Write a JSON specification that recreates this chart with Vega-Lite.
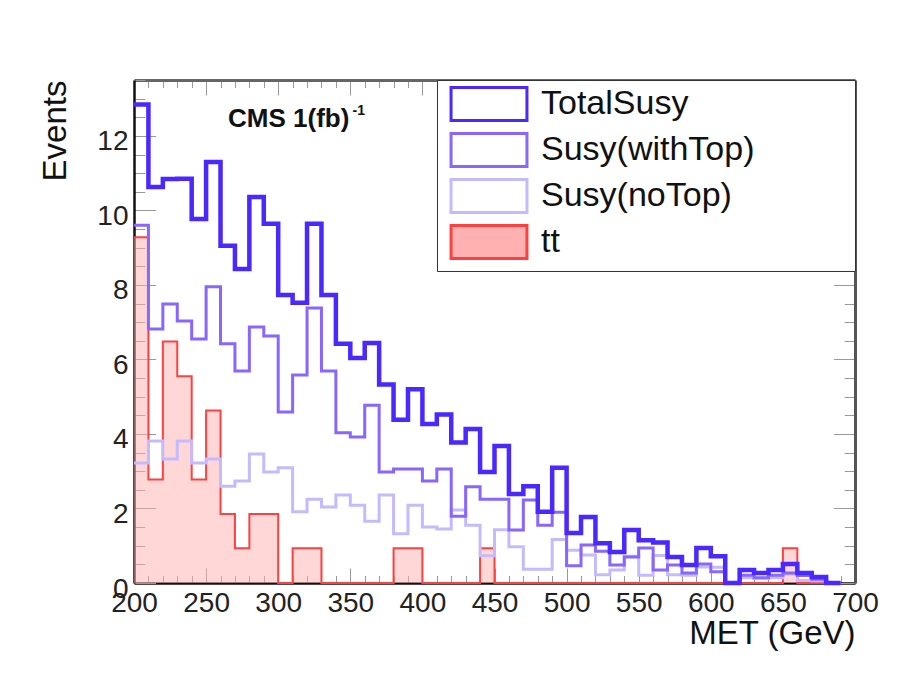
{
  "$schema": "https://vega.github.io/schema/vega-lite/v6.json",
  "width": 721,
  "height": 503,
  "autosize": "none",
  "padding": {"left": 134, "top": 80, "right": 56, "bottom": 108},
  "background": "white",
  "config": {
    "view": {"stroke": null},
    "axis": {"grid": false, "labelFont": "Liberation Sans", "titleFont": "Liberation Sans", "labelColor": "#222", "titleColor": "#111", "titleFontWeight": "normal", "labelOverlap": false, "labelFlush": false, "tickColor": "#999", "tickWidth": 1},
    "legend": {"title": null, "orient": "top-right", "offset": 0, "padding": 6,
      "symbolType": "M-2.3,-1H2.3V1H-2.3Z", "symbolSize": 1089, "symbolStrokeWidth": 3, "symbolOffset": 28,
      "labelFont": "Liberation Sans", "labelFontSize": 34, "labelColor": "#111", "labelOffset": 34, "rowPadding": 0, "labelLimit": 600,
      "strokeColor": "#333", "fillColor": "white"}
  },
  "data": {
    "values": [
      {"met": 200, "total": 12.84, "withTop": 9.6, "noTop": 3.22, "tt": 9.28},
      {"met": 210, "total": 10.63, "withTop": 6.82, "noTop": 3.81, "tt": 2.78},
      {"met": 220, "total": 10.84, "withTop": 7.49, "noTop": 3.33, "tt": 6.48},
      {"met": 230, "total": 10.85, "withTop": 7.03, "noTop": 3.81, "tt": 5.55},
      {"met": 240, "total": 9.77, "withTop": 6.55, "noTop": 3.22, "tt": 2.78},
      {"met": 250, "total": 11.3, "withTop": 7.95, "noTop": 3.33, "tt": 4.63},
      {"met": 260, "total": 9.05, "withTop": 6.42, "noTop": 2.6, "tt": 1.85},
      {"met": 270, "total": 8.43, "withTop": 5.69, "noTop": 2.74, "tt": 0.93},
      {"met": 280, "total": 10.36, "withTop": 6.87, "noTop": 3.46, "tt": 1.85},
      {"met": 290, "total": 9.64, "withTop": 6.63, "noTop": 2.98, "tt": 1.85},
      {"met": 300, "total": 7.73, "withTop": 4.59, "noTop": 3.09, "tt": 0},
      {"met": 310, "total": 7.52, "withTop": 5.58, "noTop": 1.91, "tt": 0.93},
      {"met": 320, "total": 9.64, "withTop": 7.38, "noTop": 2.25, "tt": 0.93},
      {"met": 330, "total": 7.73, "withTop": 5.69, "noTop": 2.04, "tt": 0},
      {"met": 340, "total": 6.42, "withTop": 4.03, "noTop": 2.36, "tt": 0},
      {"met": 350, "total": 6.04, "withTop": 3.92, "noTop": 2.09, "tt": 0},
      {"met": 360, "total": 6.44, "withTop": 4.77, "noTop": 1.66, "tt": 0},
      {"met": 370, "total": 5.33, "withTop": 2.98, "noTop": 2.36, "tt": 0},
      {"met": 380, "total": 4.38, "withTop": 3.06, "noTop": 1.32, "tt": 0.93},
      {"met": 390, "total": 5.2, "withTop": 3.06, "noTop": 2.09, "tt": 0.93},
      {"met": 400, "total": 4.27, "withTop": 2.74, "noTop": 1.5, "tt": 0},
      {"met": 410, "total": 4.52, "withTop": 3.06, "noTop": 1.45, "tt": 0},
      {"met": 420, "total": 3.77, "withTop": 1.79, "noTop": 1.96, "tt": 0},
      {"met": 430, "total": 4.13, "withTop": 2.58, "noTop": 1.55, "tt": 0},
      {"met": 440, "total": 2.98, "withTop": 2.25, "noTop": 0.73, "tt": 0.93},
      {"met": 450, "total": 3.68, "withTop": 2.25, "noTop": 1.43, "tt": 0},
      {"met": 460, "total": 2.39, "withTop": 1.42, "noTop": 0.97, "tt": 0},
      {"met": 470, "total": 2.6, "withTop": 2.23, "noTop": 0.37, "tt": 0},
      {"met": 480, "total": 1.91, "withTop": 1.55, "noTop": 0.37, "tt": 0},
      {"met": 490, "total": 3.09, "withTop": 1.9, "noTop": 1.17, "tt": 0},
      {"met": 500, "total": 1.34, "withTop": 0.46, "noTop": 0.88, "tt": 0},
      {"met": 510, "total": 1.77, "withTop": 1.02, "noTop": 0.75, "tt": 0},
      {"met": 520, "total": 1.07, "withTop": 0.85, "noTop": 0.22, "tt": 0},
      {"met": 530, "total": 0.83, "withTop": 0.48, "noTop": 0.35, "tt": 0},
      {"met": 540, "total": 1.42, "withTop": 0.7, "noTop": 0.72, "tt": 0},
      {"met": 550, "total": 1.15, "withTop": 0.94, "noTop": 0.21, "tt": 0},
      {"met": 560, "total": 1.09, "withTop": 0.35, "noTop": 0.74, "tt": 0},
      {"met": 570, "total": 0.7, "withTop": 0.48, "noTop": 0.22, "tt": 0},
      {"met": 580, "total": 0.48, "withTop": 0.27, "noTop": 0.21, "tt": 0},
      {"met": 590, "total": 0.94, "withTop": 0.51, "noTop": 0.43, "tt": 0},
      {"met": 600, "total": 0.72, "withTop": 0.3, "noTop": 0.42, "tt": 0},
      {"met": 610, "total": 0, "withTop": 0, "noTop": 0, "tt": 0},
      {"met": 620, "total": 0.35, "withTop": 0.21, "noTop": 0.14, "tt": 0},
      {"met": 630, "total": 0.27, "withTop": 0.14, "noTop": 0.13, "tt": 0},
      {"met": 640, "total": 0.35, "withTop": 0.21, "noTop": 0.14, "tt": 0},
      {"met": 650, "total": 0.51, "withTop": 0.27, "noTop": 0.24, "tt": 0.93},
      {"met": 660, "total": 0.27, "withTop": 0.2, "noTop": 0.07, "tt": 0},
      {"met": 670, "total": 0.16, "withTop": 0.1, "noTop": 0.06, "tt": 0},
      {"met": 680, "total": 0, "withTop": 0, "noTop": 0, "tt": 0},
      {"met": 690, "total": 0, "withTop": 0, "noTop": 0, "tt": 0}
    ]
  },
  "layer": [
    {
      "mark": {"type": "area", "interpolate": "step-after", "fillOpacity": 0.5},
      "encoding": {
        "x": {"field": "met", "type": "quantitative",
          "scale": {"domain": [200, 700], "nice": false, "zero": false},
          "axis": {"orient": "bottom", "title": "MET (GeV)", "titleAnchor": "end", "titleFontSize": 33, "titlePadding": -7,
            "values": [200,210,220,230,240,250,260,270,280,290,300,310,320,330,340,350,360,370,380,390,400,410,420,430,440,450,460,470,480,490,500,510,520,530,540,550,560,570,580,590,600,610,620,630,640,650,660,670,680,690,700],
            "labelExpr": "datum.value % 50 === 0 ? format(datum.value, 'd') : ''",
            "labelFontSize": 28, "labelPadding": 21,
            "tickSize": {"condition": {"test": "datum.value % 50 === 0", "value": -15}, "value": -7.5},
            "domainColor": "#111", "domainWidth": 2.5}},
        "y": {"field": "tt", "type": "quantitative",
          "scale": {"domain": [0, 13.5], "nice": false},
          "axis": {"orient": "left", "title": "Events", "titleAnchor": "end", "titleFontSize": 33, "titlePadding": 24,
            "values": [0,0.5,1,1.5,2,2.5,3,3.5,4,4.5,5,5.5,6,6.5,7,7.5,8,8.5,9,9.5,10,10.5,11,11.5,12,12.5,13,13.5],
            "labelExpr": "datum.value % 2 === 0 ? format(datum.value, 'd') : ''",
            "labelFontSize": 28, "labelPadding": 27.6, "labelOffset": 6,
            "tickSize": {"condition": {"test": "datum.value % 2 === 0", "value": -21.6}, "value": -10.8},
            "domainColor": "#111", "domainWidth": 2.5}},
        "fill": {"datum": "tt", "type": "nominal",
          "scale": {"domain": ["TotalSusy", "Susy(withTop)", "Susy(noTop)", "tt"], "range": ["transparent", "transparent", "transparent", "#ffb0b0"]}}
      }
    },
    {
      "mark": {"type": "line", "interpolate": "step-after", "strokeWidth": 2},
      "encoding": {
        "x": {"field": "met", "type": "quantitative", "axis": null},
        "y": {"field": "tt", "type": "quantitative", "axis": null},
        "stroke": {"datum": "tt", "type": "nominal",
          "scale": {"domain": ["TotalSusy", "Susy(withTop)", "Susy(noTop)", "tt"], "range": ["#4a28ff", "#8866ff", "#c6baff", "#ff4040"]},
          "legend": {"labelExpr": "datum.label + '\u00a0\u00a0\u00a0\u00a0\u00a0\u00a0\u00a0\u00a0\u00a0\u00a0\u200b'"}}
      }
    },
    {
      "mark": {"type": "line", "interpolate": "step-after", "strokeWidth": 3},
      "encoding": {
        "x": {"field": "met", "type": "quantitative",
          "axis": {"orient": "top", "title": null, "labels": false,
            "values": [200,210,220,230,240,250,260,270,280,290,300,310,320,330,340,350,360,370,380,390,400,410,420,430,440,450,460,470,480,490,500,510,520,530,540,550,560,570,580,590,600,610,620,630,640,650,660,670,680,690,700],
            "tickSize": {"condition": {"test": "datum.value % 50 === 0", "value": -15}, "value": -7.5},
            "domainColor": "#666", "domainWidth": 3}},
        "y": {"field": "noTop", "type": "quantitative",
          "axis": {"orient": "right", "title": null, "labels": false,
            "values": [0,0.5,1,1.5,2,2.5,3,3.5,4,4.5,5,5.5,6,6.5,7,7.5,8,8.5,9,9.5,10,10.5,11,11.5,12,12.5,13,13.5],
            "tickSize": {"condition": {"test": "datum.value % 2 === 0", "value": -21.6}, "value": -10.8},
            "domainColor": "#555", "domainWidth": 3}},
        "stroke": {"datum": "Susy(noTop)", "type": "nominal"}
      }
    },
    {
      "mark": {"type": "line", "interpolate": "step-after", "strokeWidth": 3},
      "encoding": {
        "x": {"field": "met", "type": "quantitative", "axis": null},
        "y": {"field": "withTop", "type": "quantitative", "axis": null},
        "stroke": {"datum": "Susy(withTop)", "type": "nominal"}
      }
    },
    {
      "mark": {"type": "line", "interpolate": "step-after", "strokeWidth": 4.5},
      "encoding": {
        "x": {"field": "met", "type": "quantitative", "axis": null},
        "y": {"field": "total", "type": "quantitative", "axis": null},
        "stroke": {"datum": "TotalSusy", "type": "nominal"}
      }
    },
    {
      "data": {"values": [{"note": "CMS 1(fb)"}]},
      "mark": {"type": "text", "font": "Liberation Sans", "fontWeight": "bold", "fontSize": 26, "align": "left", "baseline": "alphabetic", "color": "#111"},
      "encoding": {
        "text": {"field": "note"},
        "x": {"datum": 265.2, "type": "quantitative", "axis": null},
        "y": {"datum": 12.24, "type": "quantitative", "axis": null}
      }
    },
    {
      "data": {"values": [{"note": "-1"}]},
      "mark": {"type": "text", "font": "Liberation Sans", "fontWeight": "bold", "fontSize": 14, "align": "left", "baseline": "alphabetic", "color": "#111"},
      "encoding": {
        "text": {"field": "note"},
        "x": {"datum": 351.5, "type": "quantitative", "axis": null},
        "y": {"datum": 12.56, "type": "quantitative", "axis": null}
      }
    }
  ],
  "resolve": {"axis": {"x": "independent", "y": "independent"}}
}
